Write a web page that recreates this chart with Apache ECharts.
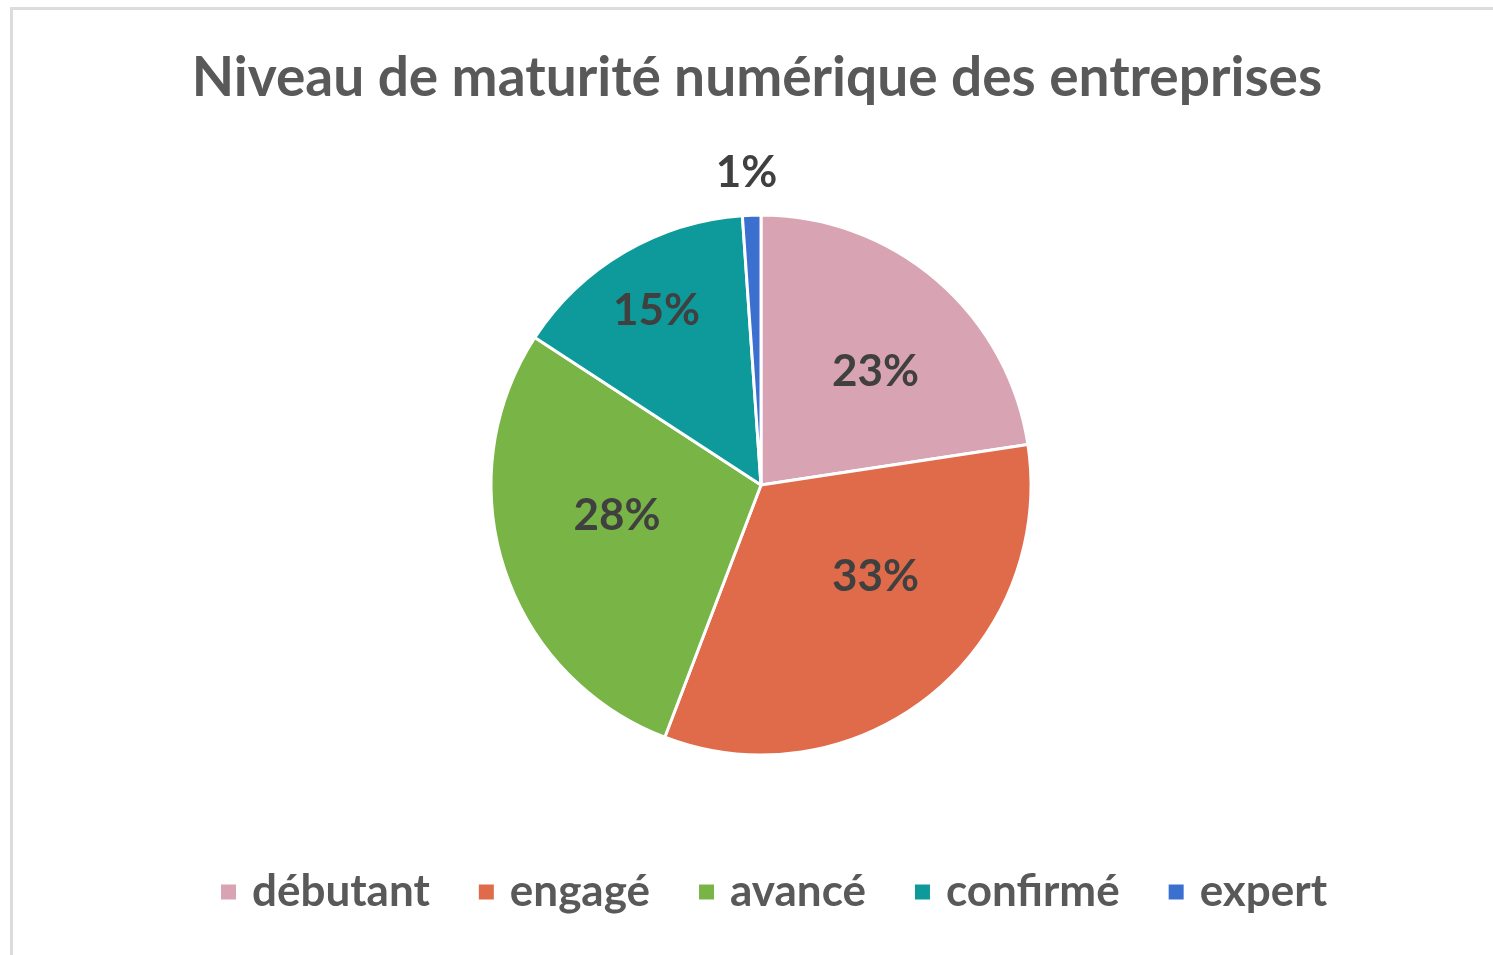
<!DOCTYPE html>
<html lang="fr">
<head>
    <meta charset="utf-8">
    <title>Niveau de maturité numérique</title>
    <script src="https://cdn.jsdelivr.net/npm/echarts@6/dist/echarts.min.js"></script>
    <style>
        body { margin: 0; background: #fff; overflow: hidden; }
        #frame { position: absolute; left: 10px; top: 7px; width: 1500px; height: 960px;
                 border-left: 3px solid #dcdcdc; border-top: 3px solid #dcdcdc; }
        #main { position: absolute; left: 0; top: 0; width: 1493px; height: 955px; }
    </style>
</head>
<body>
<div id="frame"></div>
<div id="main"></div>
<script type="text/javascript">
    // données (parts en %)
    var niveaux = ['débutant', 'engagé', 'avancé', 'confirmé', 'expert'];
    var parts = [22.6, 33.2, 28.4, 14.7, 1.1];
    var couleurs = ['#d8a3b2', '#e06b4a', '#79b447', '#0e9a9a', '#3b6fd0'];

    var R = 270;
    // décalage des étiquettes (placement "au mieux" d'Excel)
    var decalages = [[7, 12], [11, -37], [13, -20], [-21, -32], [31, -34]];

    var pieData = niveaux.map(function (n, i) {
        return { name: n, value: parts[i], itemStyle: { color: couleurs[i] } };
    });
    // série transparente pour placer les étiquettes
    var labelData = niveaux.map(function (n, i) {
        var d = { name: n, value: parts[i], itemStyle: { color: 'rgba(0,0,0,0)' },
                  label: { offset: decalages[i] } };
        if (parts[i] < 5) {
            d.label.position = 'outside';
        }
        return d;
    });

    var myChart = echarts.init(document.getElementById('main'));
    var option = {
        backgroundColor: 'transparent',
        color: couleurs,
        title: {
            text: 'Niveau de maturité numérique des entreprises',
            left: 752,
            textAlign: 'center',
            top: 46,
            textStyle: { fontFamily: 'Lato', fontWeight: 'bold', fontSize: 55, color: '#595959' }
        },
        legend: {
            data: niveaux,
            bottom: 36,
            left: 214,
            icon: 'rect',
            itemWidth: 17,
            itemHeight: 17,
            itemGap: 47,
            textStyle: { fontFamily: 'Lato', fontWeight: 'bold', fontSize: 44, color: '#595959',
                         padding: [0, 0, 0, 10] }
        },
        series: [{
            type: 'pie',
            center: [761, 485],
            radius: [0, R],
            startAngle: 90,
            clockwise: true,
            silent: true,
            label: { show: false },
            labelLine: { show: false },
            itemStyle: { borderColor: '#fff', borderWidth: 3 },
            data: pieData
        }, {
            type: 'pie',
            center: [761, 485],
            radius: [R * 0.2, R],
            startAngle: 90,
            clockwise: true,
            silent: true,
            label: {
                show: true,
                position: 'inside',
                formatter: function (p) { return Math.round(p.value) + '%'; },
                fontFamily: 'Lato',
                fontWeight: 'bold',
                fontSize: 44,
                color: '#404040'
            },
            labelLine: { show: false, length: 8, length2: 0 },
            data: labelData
        }]
    };
    myChart.setOption(option);
</script>
</body>
</html>
